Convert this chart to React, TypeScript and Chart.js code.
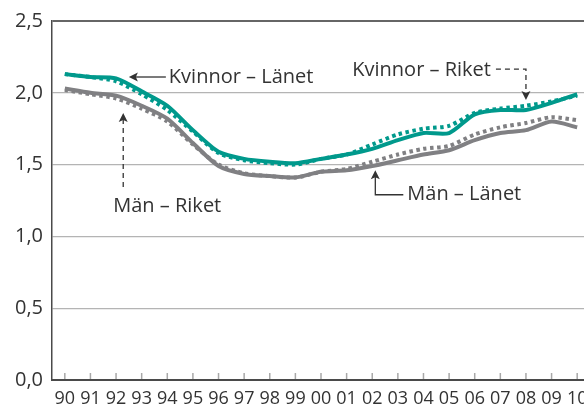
import React, { useEffect, useRef } from 'react';
import { Chart, registerables } from 'chart.js';

Chart.register(...registerables);

const years = ['90', '91', '92', '93', '94', '95', '96', '97', '98', '99', '00', '01', '02', '03', '04', '05', '06', '07', '08', '09', '10'];
const kvinnorLanet = [2.13, 2.11, 2.10, 2.01, 1.91, 1.74, 1.59, 1.54, 1.52, 1.51, 1.54, 1.57, 1.61, 1.67, 1.72, 1.72, 1.85, 1.88, 1.88, 1.93, 1.99];
const kvinnorRiket = [2.13, 2.11, 2.08, 1.99, 1.88, 1.73, 1.58, 1.53, 1.51, 1.50, 1.54, 1.57, 1.64, 1.71, 1.75, 1.77, 1.86, 1.89, 1.91, 1.94, 1.98];
const manLanet = [2.03, 2.00, 1.98, 1.91, 1.82, 1.65, 1.49, 1.435, 1.42, 1.41, 1.45, 1.46, 1.49, 1.53, 1.57, 1.60, 1.67, 1.72, 1.74, 1.80, 1.76];
const manRiket = [2.02, 1.99, 1.96, 1.89, 1.80, 1.64, 1.50, 1.44, 1.42, 1.41, 1.45, 1.47, 1.52, 1.57, 1.61, 1.63, 1.71, 1.76, 1.79, 1.83, 1.81];
const yTickValues = [0, 0.5, 1.0, 1.5, 2.0, 2.5];

const TEAL = '#00998c';
const GRAY = '#808083';
const TEXT = '#333333';
const FONT = "'Open Sans', sans-serif";

const tickMarksPlugin = {
  id: 'tickMarks',
  afterDraw(chart: any) {
    const ctx = chart.ctx;
    const xs = chart.scales.x;
    const bottom = chart.chartArea.bottom;
    ctx.save();
    ctx.strokeStyle = '#a8a8a8';
    ctx.lineWidth = 1.5;
    years.forEach((_, i) => {
      const px = xs.getPixelForValue(i);
      ctx.beginPath();
      ctx.moveTo(px, bottom - 7);
      ctx.lineTo(px, bottom - 1);
      ctx.stroke();
    });
    ctx.restore();
  },
};

function arrowHead(ctx: any, x: number, y: number, dir: 'left' | 'up' | 'down') {
  ctx.beginPath();
  if (dir === 'left') {
    ctx.moveTo(x, y);
    ctx.lineTo(x + 9, y - 4.5);
    ctx.lineTo(x + 7, y);
    ctx.lineTo(x + 9, y + 4.5);
  } else if (dir === 'up') {
    ctx.moveTo(x, y);
    ctx.lineTo(x - 4.5, y + 9);
    ctx.lineTo(x, y + 7);
    ctx.lineTo(x + 4.5, y + 9);
  } else {
    ctx.moveTo(x, y);
    ctx.lineTo(x - 4.5, y - 9);
    ctx.lineTo(x, y - 7);
    ctx.lineTo(x + 4.5, y - 9);
  }
  ctx.closePath();
  ctx.fill();
}

const annotationPlugin = {
  id: 'labels',
  afterDraw(chart: any) {
    const ctx = chart.ctx;
    const X = (v: number) => chart.scales.x.getPixelForValue(v);
    const Y = (v: number) => chart.scales.y.getPixelForValue(v);
    ctx.save();
    ctx.fillStyle = TEXT;
    ctx.strokeStyle = TEXT;
    ctx.lineWidth = 1.3;
    ctx.font = `20px ${FONT}`;
    ctx.textBaseline = 'alphabetic';

    // Kvinnor – Länet
    {
      const tx = X(2.5), ty = Y(2.11);
      ctx.setLineDash([]);
      ctx.beginPath();
      ctx.moveTo(tx + 6, ty);
      ctx.lineTo(tx + 37, ty);
      ctx.stroke();
      arrowHead(ctx, tx, ty, 'left');
      ctx.textAlign = 'left';
      ctx.fillText('Kvinnor – Länet', tx + 40, ty + 6);
    }
    // Kvinnor – Riket
    {
      const tx = X(18), ty = Y(1.95), ly = Y(2.165);
      ctx.setLineDash([5, 4]);
      ctx.beginPath();
      ctx.moveTo(tx - 30, ly);
      ctx.lineTo(tx, ly);
      ctx.lineTo(tx, ty - 6);
      ctx.stroke();
      ctx.setLineDash([]);
      arrowHead(ctx, tx, ty, 'down');
      ctx.textAlign = 'right';
      ctx.fillText('Kvinnor – Riket', tx - 35, ly + 6.5);
    }
    // Män – Riket
    {
      const tx = X(2.28), ty = Y(1.86), by = Y(1.32);
      ctx.setLineDash([5, 4]);
      ctx.beginPath();
      ctx.moveTo(tx, ty + 6);
      ctx.lineTo(tx, by);
      ctx.stroke();
      ctx.setLineDash([]);
      arrowHead(ctx, tx, ty, 'up');
      ctx.textAlign = 'left';
      ctx.fillText('Män – Riket', tx - 10, by + 22);
    }
    // Män – Länet
    {
      const tx = X(12.12), ty = Y(1.46), by = Y(1.29);
      ctx.setLineDash([]);
      ctx.beginPath();
      ctx.moveTo(tx, ty + 6);
      ctx.lineTo(tx, by);
      ctx.lineTo(tx + 28, by);
      ctx.stroke();
      arrowHead(ctx, tx, ty, 'up');
      ctx.textAlign = 'left';
      ctx.fillText('Män – Länet', tx + 32, by + 5);
    }
    ctx.restore();
  },
};

export default function App() {
  const ref = useRef<HTMLCanvasElement | null>(null);

  useEffect(() => {
    if (!ref.current) return;
    const lineBase = { pointRadius: 0, tension: 0.25, fill: false, borderCapStyle: 'butt' as const, borderJoinStyle: 'round' as const };
    const chart = new Chart(ref.current, {
      type: 'line',
      data: {
        labels: years,
        datasets: [
          { ...lineBase, label: 'Män – Riket', data: manRiket, borderColor: GRAY, borderWidth: 4, borderDash: [3.5, 3.5] },
          { ...lineBase, label: 'Män – Länet', data: manLanet, borderColor: GRAY, borderWidth: 4 },
          { ...lineBase, label: 'Kvinnor – Riket', data: kvinnorRiket, borderColor: TEAL, borderWidth: 4, borderDash: [3.5, 3.5] },
          { ...lineBase, label: 'Kvinnor – Länet', data: kvinnorLanet, borderColor: TEAL, borderWidth: 4 },
        ],
      },
      options: {
        responsive: false,
        animation: false,
        devicePixelRatio: 1,
        layout: { padding: { top: 20, right: 10, left: 0, bottom: 0 } },
        plugins: { legend: { display: false }, tooltip: { enabled: false }, title: { display: false } },
        scales: {
          x: {
            type: 'category',
            offset: true,
            grid: { display: false },
            border: { display: true, color: '#4a4a4a', width: 2 },
            ticks: { color: TEXT, font: { family: FONT, size: 18 }, padding: 0, maxRotation: 0, autoSkip: false },
            afterFit: (s: any) => { s.height = 40; },
          },
          y: {
            min: 0,
            max: 2.5,
            afterBuildTicks: (s: any) => { s.ticks = yTickValues.map((v) => ({ value: v })); },
            grid: {
              drawTicks: false,
              color: (c: any) => (c.tick && c.tick.value === 2.5 ? '#666666' : '#b4b4b4'),
              lineWidth: (c: any) => (c.tick && c.tick.value === 2.5 ? 2 : 1.3),
            },
            border: { display: true, color: '#4a4a4a', width: 1.5 },
            ticks: {
              color: TEXT,
              font: { family: FONT, size: 20 },
              padding: 9,
              callback: (v: any) => Number(v).toFixed(1).replace('.', ','),
            },
            afterFit: (s: any) => { s.width = 52; },
          },
        },
      },
      plugins: [tickMarksPlugin, annotationPlugin],
    });
    return () => chart.destroy();
  }, []);

  return (
    <div style={{ position: 'fixed', left: 0, top: 0, width: 584, height: 405, overflow: 'hidden', background: '#fff' }}>
      <canvas ref={ref} width={600} height={420} style={{ display: 'block' }} />
    </div>
  );
}
